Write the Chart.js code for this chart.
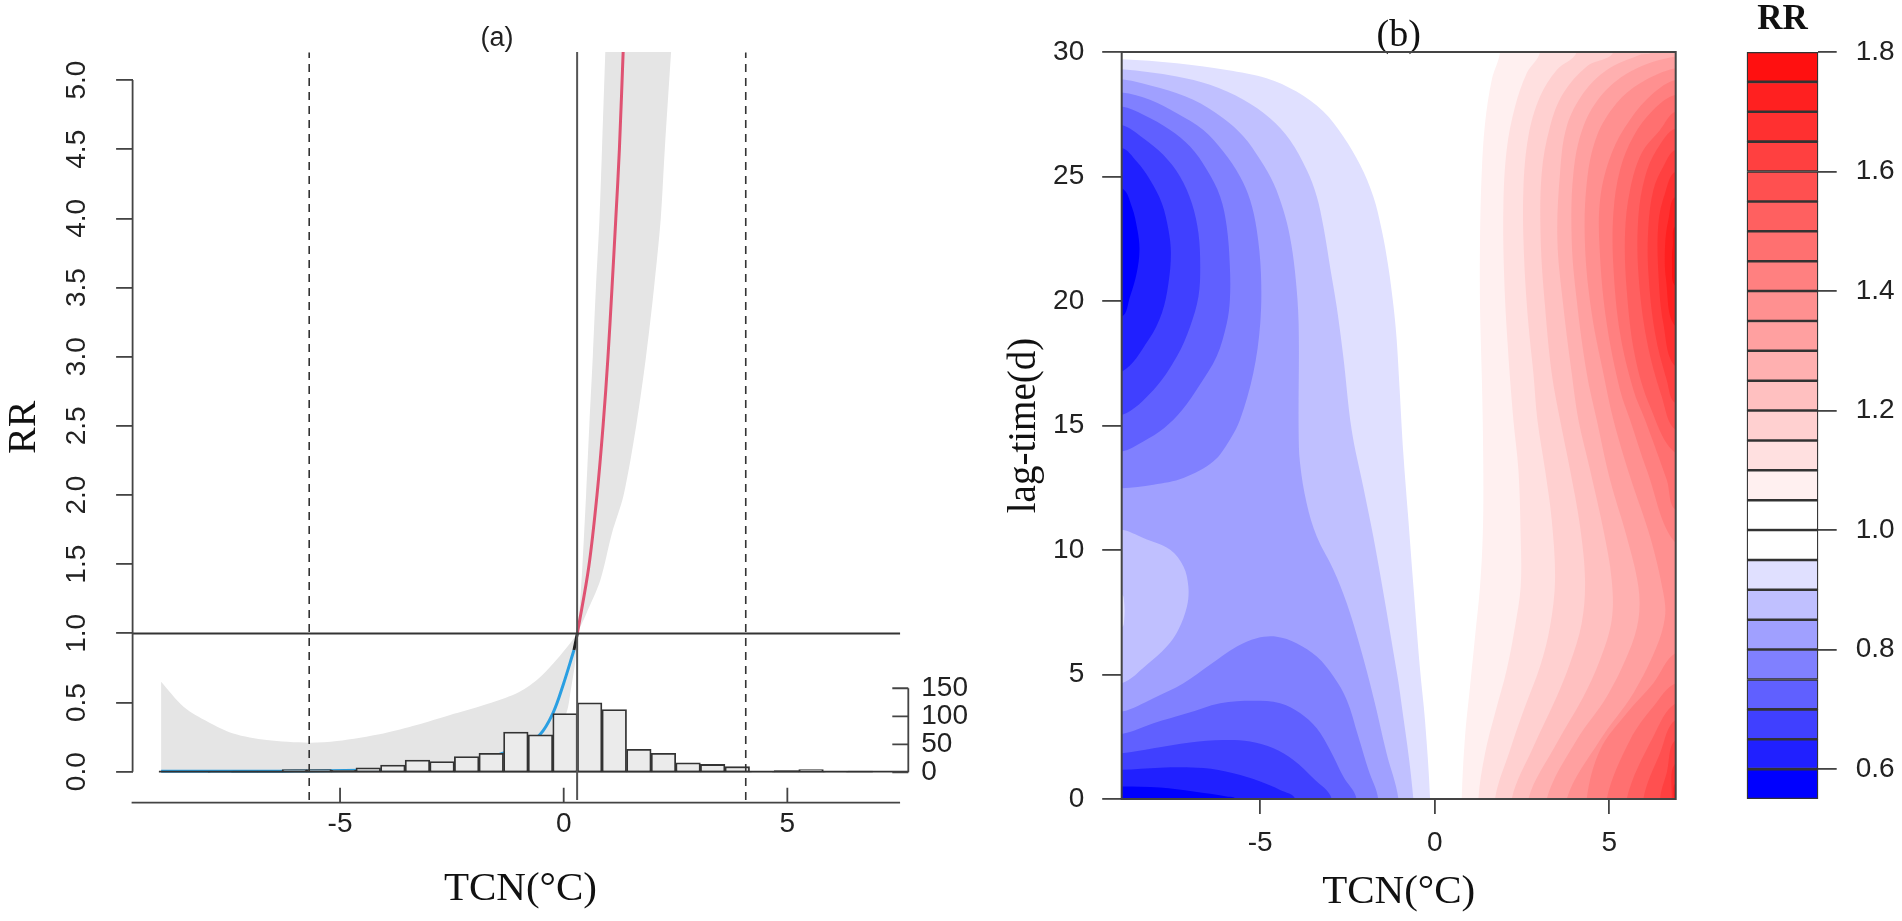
<!DOCTYPE html>
<html>
<head>
<meta charset="utf-8">
<title>RR</title>
<script src="https://cdn.jsdelivr.net/npm/chart.js@4"></script>
<style>
html, body { margin: 0; padding: 0; background: #fff; }
canvas { position: absolute; top: 0; }
#panelA { left: 0; }
#panelB { left: 1000px; }
#panelKey { left: 1700px; }
</style>
</head>
<body>
<canvas id="panelA" width="994" height="921"></canvas>
<canvas id="panelB" width="700" height="921"></canvas>
<canvas id="panelKey" width="202" height="921"></canvas>
<script>
// panel (a): ticks
const aXTicks = [-5, 0, 5];
const aYTicks = [0, 0.5, 1, 1.5, 2, 2.5, 3, 3.5, 4, 4.5, 5];
const histTicks = [0, 50, 100, 150];
// panel (a): histogram of TCN
const histMids = [-8.77, -8.22, -7.67, -7.12, -6.57, -6.02, -5.47, -4.92, -4.37, -3.82, -3.27, -2.72, -2.17, -1.62, -1.07, -0.52, 0.03, 0.58, 1.13, 1.68, 2.23, 2.78, 3.33, 3.88, 4.43, 4.98, 5.53, 6.08, 6.63];
const histCounts = [0, 0, 1, 2, 2, 5, 5, 4, 8, 13, 22, 19, 28, 34, 72, 67, 105, 124, 112, 41, 34, 17, 14, 10, 1, 3, 5, 1, 2];
// panel (a): cumulative RR curve and its confidence band [TCN, RR]
const coldCurve = [[-9, 0.003], [-6, 0.005], [-3, 0.03], [-1.5, 0.12], [-0.9, 0.2], [-0.54, 0.265], [-0.24, 0.424], [0, 0.64], [0.23, 0.88]];
const midCurve = [[0.23, 0.88], [0.305, 1]];
const heatCurve = [[0.305, 1], [0.56, 1.48], [0.744, 2], [0.88, 2.5], [0.99, 3], [1.08, 3.5], [1.165, 4], [1.245, 4.5], [1.34, 5.3]];
// corners are listed twice so the smoothing leaves them sharp
const bandEdge = [[-9, 0], [-9, 0], [-9, 0.65], [-9, 0.65], [-8.5, 0.47], [-7.95, 0.36], [-7.39, 0.277], [-6.64, 0.229], [-5.7, 0.21], [-5.07, 0.222], [-4.03, 0.277], [-3.29, 0.337], [-2.54, 0.41], [-1.8, 0.48], [-1.05, 0.567], [-0.6, 0.663], [-0.23, 0.784], [0.05, 0.89], [0.305, 1], [0.305, 1], [0.36, 1.2], [0.42, 1.5], [0.5, 2], [0.572, 2.5], [0.65, 3], [0.72, 3.5], [0.8, 4], [0.856, 4.5], [0.94, 5.3], [0.94, 5.3], [2.42, 5.3], [2.42, 5.3], [2.26, 4.5], [2.17, 4], [2.02, 3.5], [1.84, 3], [1.62, 2.5], [1.34, 2], [1.08, 1.725], [0.82, 1.386], [0.51, 1.146], [0.305, 1], [0.305, 1], [0.26, 0.8], [0.163, 0.6], [0.06, 0.424], [-0.3, 0.2], [-1, 0.03], [-3, 0], [-9, 0]];
const refT = 0.3;
const dashT = [-5.69, 4.07];

// panel (b): ticks
const bXTicks = [-5, 0, 5];
const bYTicks = [0, 5, 10, 15, 20, 25, 30];
// panel (b): contour lines [TCN, lag], blue side, RR below the level
const lo095 = [[-8.97, 29.71], [-7.39, 29.55], [-5.96, 29.28], [-4.82, 28.95], [-3.96, 28.41], [-3.19, 27.61], [-2.62, 26.61], [-2.14, 25.47], [-1.76, 24.2], [-1.52, 22.86], [-1.33, 21.38], [-1.18, 19.78], [-1.09, 18.44], [-1.01, 16.56], [-0.9, 13.89], [-0.755, 11.21], [-0.61, 8.53], [-0.42, 5.19], [-0.28, 3.18], [-0.134, 0]];
const lo090 = [[-8.97, 29.31], [-7.39, 29.02], [-6.44, 28.68], [-5.48, 28.08], [-4.72, 27.34], [-4.15, 26.47], [-3.67, 25.27], [-3.38, 24.2], [-3.19, 22.99], [-3, 21.38], [-2.81, 19.78], [-2.62, 17.77], [-2.38, 14.82], [-2.05, 12.55], [-1.76, 10.54], [-1.47, 8.27], [-1.18, 5.86], [-0.994, 4.25], [-0.612, 0]];
const lo085 = [[-8.97, 28.91], [-7.87, 28.55], [-6.92, 28.08], [-6.06, 27.34], [-5.48, 26.61], [-5, 25.67], [-4.62, 24.73], [-4.34, 23.66], [-4.15, 22.59], [-4, 21.12], [-3.9, 19.1], [-3.9, 14.83], [-3.86, 13.49], [-3.67, 11.88], [-3.38, 10.54], [-2.9, 9.2], [-2.52, 7.86], [-2.14, 6.12], [-1.76, 4.11], [-1.38, 1.84], [-1.04, 0]];
const islandHi085 = [[-8.97, 10.81], [-8.35, 10.48], [-7.58, 10.01], [-7.2, 9.34], [-7.06, 8.53], [-7.1, 7.73], [-7.35, 6.79], [-7.68, 6.12], [-8.25, 5.39], [-8.97, 4.65]];
const islandHi090 = [[-8.97, 8.2], [-8.9, 7.9], [-8.9, 7.2], [-8.97, 6.9]];
const lo080Top = [[-8.97, 28.37], [-8.16, 28.08], [-7.39, 27.54], [-6.63, 26.87], [-6.06, 26], [-5.58, 25], [-5.29, 24.06], [-5.1, 22.86], [-4.98, 21.12], [-5, 19.1], [-5.2, 17.1], [-5.58, 15.23], [-5.87, 14.43], [-6.34, 13.56], [-7.2, 12.89], [-8.06, 12.62], [-8.97, 12.48]];
const lo080Low = [[-8.97, 3.51], [-8.06, 4.05], [-7.2, 4.65], [-6.44, 5.39], [-5.67, 6.12], [-5.1, 6.46], [-4.53, 6.52], [-3.96, 6.26], [-3.38, 5.72], [-2.9, 4.92], [-2.52, 3.98], [-2.19, 2.51], [-1.9, 1.17], [-1.62, 0]];
const lo075Top = [[-8.97, 27.81], [-8.35, 27.48], [-7.58, 26.87], [-7.01, 26.2], [-6.53, 25.27], [-6.15, 24.2], [-5.96, 22.99], [-5.87, 21.38], [-5.87, 20.04], [-5.96, 19.1], [-6.25, 17.77], [-6.75, 16.6], [-7.25, 15.6], [-7.75, 14.9], [-8.35, 14.36], [-8.97, 13.96]];
const lo075Low = [[-8.97, 2.61], [-8.06, 3.04], [-7.1, 3.44], [-6.15, 3.85], [-5.2, 3.95], [-4.43, 3.85], [-3.86, 3.45], [-3.38, 2.84], [-3, 1.97], [-2.62, 0.9], [-2.24, 0]];
const lo070Top = [[-8.97, 27.07], [-8.35, 26.54], [-7.78, 25.87], [-7.3, 25], [-6.96, 23.93], [-6.77, 22.72], [-6.72, 21.38], [-6.77, 20.18], [-7.01, 18.97], [-7.39, 17.77], [-8.06, 16.43], [-8.97, 15.42]];
const lo070Low = [[-8.97, 1.84], [-8.06, 2.04], [-7.01, 2.27], [-6.06, 2.37], [-5.29, 2.31], [-4.62, 2.04], [-4.05, 1.57], [-3.48, 0.83], [-2.95, 0]];
const lo065Top = [[-8.97, 26.14], [-8.54, 25.6], [-8.16, 24.87], [-7.82, 23.93], [-7.63, 22.86], [-7.56, 21.92], [-7.63, 20.71], [-7.82, 19.51], [-8.2, 18.44], [-8.97, 17.16]];
const lo065Low = [[-8.97, 1.17], [-7.87, 1.26], [-6.63, 1.24], [-5.77, 1.03], [-5, 0.7], [-4.43, 0.36], [-4, 0]];
const lo060Top = [[-8.97, 24.53], [-8.68, 23.79], [-8.52, 22.86], [-8.46, 22.05], [-8.54, 21.12], [-8.73, 20.18], [-8.97, 19.37]];
const lo060Low = [[-8.97, 0.5], [-7.87, 0.46], [-6.91, 0.3], [-5.96, 0.1], [-5.72, 0]];
// panel (b): contour lines, red side, RR above the level
const hi105 = [[1.871, 30], [1.633, 28.88], [1.442, 27.14], [1.346, 25.13], [1.298, 22.45], [1.298, 19.78], [1.346, 17.1], [1.375, 15.23], [1.394, 12.55], [1.375, 10.54], [1.298, 8.53], [1.155, 6.52], [1.012, 4.52], [0.868, 2.51], [0.773, 0]];
const hi110 = [[3.017, 30], [2.635, 29.15], [2.301, 27.81], [2.062, 26.07], [1.967, 23.79], [1.986, 21.12], [2.081, 18.44], [2.253, 15.23], [2.397, 13.22], [2.463, 10.54], [2.463, 8.53], [2.301, 6.93], [2.062, 5.19], [1.728, 3.44], [1.442, 1.84], [1.25, 0]];
const hi115 = [[4.068, 30], [3.495, 29.28], [3.017, 28.21], [2.683, 26.61], [2.54, 24.46], [2.559, 21.78], [2.683, 19.1], [2.827, 17.1], [2.941, 15.23], [3.161, 13.22], [3.352, 11.21], [3.447, 8.8], [3.304, 6.93], [3.017, 5.32], [2.588, 3.71], [2.158, 1.97], [1.728, 0]];
const hi120 = [[5.119, 30], [4.355, 29.42], [3.686, 28.35], [3.304, 27.01], [3.065, 25.13], [3.037, 22.45], [3.161, 19.78], [3.352, 17.1], [3.59, 15.23], [3.877, 13.22], [4.164, 10.94], [4.307, 8.8], [4.211, 7.06], [3.877, 5.45], [3.495, 4.11], [2.827, 2.1], [2.206, 0]];
const hi125 = [[6.2, 30], [5.883, 29.89], [4.928, 29.28], [4.259, 28.35], [3.782, 27.01], [3.59, 25.13], [3.514, 22.45], [3.686, 19.78], [3.925, 17.1], [4.116, 15.23], [4.45, 13.22], [4.832, 10.81], [5.071, 8.8], [5.071, 7.19], [4.737, 5.59], [4.259, 4.11], [3.495, 2.24], [2.683, 0]];
const hi130 = [[6.91, 29.82], [5.692, 29.28], [4.832, 28.35], [4.259, 27.01], [3.973, 25.13], [3.925, 22.45], [4.068, 20.04], [4.355, 17.1], [4.641, 15.23], [5.023, 12.82], [5.5, 10.54], [5.835, 8.53], [5.835, 7.19], [5.548, 5.86], [4.928, 4.11], [4.068, 2.37], [3.208, 0]];
const hi135 = [[6.91, 29.35], [5.883, 28.75], [5.214, 27.95], [4.641, 26.61], [4.355, 24.73], [4.307, 22.19], [4.498, 19.51], [4.832, 17.1], [5.119, 15.23], [5.596, 12.95], [6.17, 10.54], [6.551, 8.27], [6.599, 7.33], [6.36, 6.12], [5.692, 4.25], [4.737, 2.37], [3.782, 0]];
const hi140Top = [[6.91, 28.88], [6.265, 28.35], [5.596, 27.28], [5.071, 25.94], [4.737, 24.06], [4.737, 21.78], [4.928, 19.1], [5.31, 16.43], [5.596, 15.23], [6.074, 13.22], [6.91, 10.27]];
const hi140Low = [[6.91, 5.86], [6.265, 4.65], [5.5, 3.44], [4.737, 1.97], [4.355, 0]];
const hi145Top = [[6.91, 28.28], [6.265, 27.68], [5.692, 26.61], [5.31, 25.27], [5.119, 23.53], [5.119, 21.38], [5.31, 18.7], [5.692, 16.43], [6.026, 15.23], [6.647, 12.82], [6.91, 11.61]];
const hi145Low = [[6.91, 4.65], [6.265, 3.71], [5.596, 2.37], [4.928, 0]];
const hi150Top = [[6.91, 27.61], [6.456, 26.87], [5.93, 25.94], [5.596, 24.46], [5.453, 22.72], [5.5, 20.45], [5.74, 17.77], [6.17, 15.76], [6.91, 13.89]];
const hi150Low = [[6.91, 3.85], [6.265, 2.51], [5.5, 0]];
const hi155Top = [[6.91, 26.94], [6.36, 26.07], [6.026, 24.98], [5.835, 23.39], [5.835, 21.12], [6.074, 18.44], [6.504, 16.16], [6.91, 14.82]];
const hi155Low = [[6.91, 3.18], [6.456, 1.84], [5.978, 0]];
const hi160Top = [[6.91, 26.07], [6.551, 25.4], [6.265, 24.46], [6.122, 22.99], [6.122, 21.12], [6.313, 18.7], [6.647, 16.83], [6.91, 15.89]];
const hi160Low = [[6.91, 2.37], [6.647, 1.04], [6.456, 0]];
const hi165Top = [[6.91, 25.2], [6.599, 24.33], [6.408, 23.12], [6.408, 21.12], [6.551, 19.1], [6.91, 17.37]];
const hi165Low = [[6.91, 1.44], [6.79, 0]];
const hi170Top = [[6.91, 24.2], [6.695, 23.26], [6.599, 22.19], [6.628, 20.85], [6.91, 18.97]];
const hi170Low = [[6.91, 0.63], [6.85, 0]];
const hi175Top = [[6.91, 23], [6.82, 22.2], [6.8, 21.6], [6.91, 20.6]];
const hi175Low = [[6.91, 0.25], [6.88, 0]];

// colour key
const keyBreaks = [0.55, 0.6, 0.65, 0.7, 0.75, 0.8, 0.85, 0.9, 0.95, 1, 1.05, 1.1, 1.15, 1.2, 1.25, 1.3, 1.35, 1.4, 1.45, 1.5, 1.55, 1.6, 1.65, 1.7, 1.75, 1.8];
const keyColors = ['#0000ff', '#2020ff', '#4040ff', '#6060ff', '#8080ff', '#a0a0ff', '#c0c0ff', '#e0e0ff', '#ffffff', '#ffffff', '#fff0f0', '#ffe0e0', '#ffd0d0', '#ffc0c0', '#ffb0b0', '#ffa0a0', '#ff9090', '#ff8080', '#ff7070', '#ff6060', '#ff5050', '#ff4040', '#ff3030', '#ff2020', '#ff1010'];
const keyTicks = [0.6, 0.8, 1, 1.2, 1.4, 1.6, 1.8];

const sans = 'Liberation Sans';
const serif = 'Liberation Serif';
const inkColor = '#222';
const axisColor = '#444';
Chart.defaults.font.family = sans;
Chart.defaults.color = inkColor;

function pts(list) {
    return list.map(function (p) { return { x: p[0], y: p[1] }; });
}
function fixedTicks(list) {
    return function (scale) { scale.ticks = list.map(function (v) { return { value: v }; }); };
}
function polygon(list, color, order, tension) {
    return { data: pts(list), showLine: true, fill: 'shape', tension: tension, backgroundColor: color, borderWidth: 0, pointRadius: 0, order: order };
}
// a contour closes outside the plot, on the side it encloses, and is clipped there
function contour(list, sideX, color, order) {
    const first = list[0], last = list[list.length - 1];
    const head = first[1] >= 30 ? [[sideX, 32], [first[0], 32]] : [[sideX, first[1]]];
    const tail = last[1] <= 0 ? [[last[0], -2], [sideX, -2]] : [[sideX, last[1]]];
    return polygon(head.concat(list, tail), color, order, 0.35);
}
function line(list, color, width, order, dash) {
    return { data: pts(list), showLine: true, fill: false, borderColor: color, borderWidth: width, borderDash: dash || [], pointRadius: 0, order: order, clip: false };
}
function curve(list, color, width, order) {
    return { data: pts(list), showLine: true, fill: false, tension: 0.35, borderColor: color, borderWidth: width, pointRadius: 0, order: order };
}
const baseOptions = {
    responsive: false,
    devicePixelRatio: 1,
    animation: false,
    events: [],
    plugins: { legend: { display: false }, tooltip: { enabled: false } }
};

// the axes of panel (a) do not span the plot region and its x ticks point inwards
const axesA = {
    id: 'axesA',
    afterDatasetsDraw(chart) {
        const c = chart.ctx, x = chart.scales.x, y = chart.scales.y, h = chart.scales.yH;
        const bottom = chart.chartArea.bottom, right = chart.chartArea.right;
        c.save();
        c.strokeStyle = axisColor;
        c.lineWidth = 1.8;
        c.beginPath();
        c.moveTo(chart.chartArea.left, y.getPixelForValue(0));
        c.lineTo(chart.chartArea.left, y.getPixelForValue(5));
        c.moveTo(chart.chartArea.left - 1, bottom);
        c.lineTo(x.getPixelForValue(7.52), bottom);
        aXTicks.forEach(function (v) {
            c.moveTo(x.getPixelForValue(v), bottom);
            c.lineTo(x.getPixelForValue(v), bottom - 15);
        });
        c.moveTo(right, h.getPixelForValue(0));
        c.lineTo(right, h.getPixelForValue(150));
        histTicks.forEach(function (v) {
            c.moveTo(right, h.getPixelForValue(v));
            c.lineTo(right - 16, h.getPixelForValue(v));
        });
        c.stroke();
        c.restore();
    }
};
const frameB = {
    id: 'frameB',
    afterDatasetsDraw(chart) {
        const c = chart.ctx, a = chart.chartArea;
        c.save();
        c.strokeStyle = axisColor;
        c.lineWidth = 2;
        c.strokeRect(a.left, a.top, a.right - a.left, a.bottom - a.top);
        c.restore();
    }
};

new Chart(document.getElementById('panelA'), {
    type: 'scatter',
    plugins: [axesA],
    data: {
        datasets: [
            polygon(bandEdge, '#e5e5e5', 20, 0.3),
            curve(coldCurve, '#2a9fe2', 3, 18),
            {
                type: 'bar',
                yAxisID: 'yH',
                data: histMids.map(function (m, i) { return { x: m, y: histCounts[i] }; }),
                backgroundColor: '#ebebeb',
                borderColor: '#333',
                borderWidth: 1.8,
                borderSkipped: false,
                categoryPercentage: 1,
                barPercentage: 1,
                order: 16
            },
            line([[-9.05, 0], [7.7, 0]], '#333', 1.8, 14),
            curve(midCurve, '#222', 3, 12),
            curve(heatCurve, '#df5272', 3, 10),
            line([[refT, -0.204], [refT, 5.203]], '#555', 2, 8),
            line([[dashT[0], -0.204], [dashT[0], 5.2]], '#333', 1.6, 6, [8, 6]),
            line([[dashT[1], -0.204], [dashT[1], 5.2]], '#333', 1.6, 6, [8, 6]),
            line([[-9.638, 1], [7.52, 1]], '#333', 2, 4)
        ]
    },
    options: Object.assign({}, baseOptions, {
        layout: { autoPadding: false, padding: 0 },
        plugins: Object.assign({}, baseOptions.plugins, {
            title: { display: true, text: '(a)', color: inkColor, font: { size: 27, weight: 'normal', lineHeight: 1 }, padding: { top: 25, bottom: 0 } }
        }),
        scales: {
            x: {
                type: 'linear',
                offset: false,
                min: -9.638,
                max: 7.704,
                afterBuildTicks: fixedTicks(aXTicks),
                afterFit: function (s) { s.height = 921 - 802.7; },
                grid: { display: false, drawTicks: false },
                border: { display: false },
                ticks: { padding: 5, maxRotation: 0, autoSkip: false, font: { size: 28 }, callback: function (v) { return String(v); } },
                title: { display: true, text: 'TCN(°C)', color: '#111', font: { family: serif, size: 41, lineHeight: 1 }, padding: { top: 0, bottom: 11 } }
            },
            y: {
                type: 'linear',
                min: -0.224,
                max: 5.203,
                afterBuildTicks: fixedTicks(aYTicks),
                afterFit: function (s) { s.width = 132.6; },
                grid: { drawOnChartArea: false, tickLength: 16.5, color: axisColor, lineWidth: 1.8 },
                border: { display: false },
                ticks: { padding: 19, minRotation: 90, maxRotation: 90, crossAlign: 'center', autoSkip: false, font: { size: 28 }, callback: function (v) { return v.toFixed(1); } },
                title: { display: true, text: 'RR', color: '#111', font: { family: serif, size: 40, lineHeight: 1 }, padding: { top: 4, bottom: 0 } }
            },
            yH: {
                type: 'linear',
                position: 'right',
                min: -54.3,
                max: 1286,
                afterBuildTicks: fixedTicks(histTicks),
                afterFit: function (s) { s.width = 994 - 908.3; },
                grid: { display: false, drawTicks: false },
                border: { display: false },
                ticks: { padding: 13, autoSkip: false, font: { size: 28 } }
            }
        }
    })
});

// painted from the outermost level inwards
const blueLayers = [
    [lo095, '#e0e0ff'], [lo090, '#c0c0ff'], [lo085, '#a0a0ff'], [islandHi085, '#c0c0ff'], [islandHi090, '#e0e0ff'],
    [lo080Top, '#8080ff'], [lo080Low, '#8080ff'], [lo075Top, '#6060ff'], [lo075Low, '#6060ff'],
    [lo070Top, '#4040ff'], [lo070Low, '#4040ff'], [lo065Top, '#2020ff'], [lo065Low, '#2020ff'],
    [lo060Top, '#0000ff'], [lo060Low, '#0000ff']
];
const redLayers = [
    [hi105, '#fff0f0'], [hi110, '#ffe0e0'], [hi115, '#ffd0d0'], [hi120, '#ffc0c0'], [hi125, '#ffb0b0'],
    [hi130, '#ffa0a0'], [hi135, '#ff9090'], [hi140Top, '#ff8080'], [hi140Low, '#ff8080'],
    [hi145Top, '#ff7070'], [hi145Low, '#ff7070'], [hi150Top, '#ff6060'], [hi150Low, '#ff6060'],
    [hi155Top, '#ff5050'], [hi155Low, '#ff5050'], [hi160Top, '#ff4040'], [hi160Low, '#ff4040'],
    [hi165Top, '#ff3030'], [hi165Low, '#ff3030'], [hi170Top, '#ff2020'], [hi170Low, '#ff2020'],
    [hi175Top, '#ff1010'], [hi175Low, '#ff1010']
];
const total = blueLayers.length + redLayers.length;

new Chart(document.getElementById('panelB'), {
    type: 'scatter',
    plugins: [frameB],
    data: {
        datasets: blueLayers.map(function (l, i) { return contour(l[0], -10, l[1], total - i); })
            .concat(redLayers.map(function (l, i) { return contour(l[0], 8, l[1], redLayers.length - i); }))
    },
    options: Object.assign({}, baseOptions, {
        layout: { autoPadding: false, padding: { right: 24.3 } },
        plugins: Object.assign({}, baseOptions.plugins, {
            title: { display: true, fullSize: false, text: '(b)', color: '#111', font: { family: serif, size: 38, weight: 'normal', lineHeight: 1 }, padding: { top: 17, bottom: -3 } }
        }),
        scales: {
            x: {
                type: 'linear',
                min: -8.97,
                max: 6.905,
                afterBuildTicks: fixedTicks(bXTicks),
                afterFit: function (s) { s.height = 122; },
                grid: { drawOnChartArea: false, tickLength: 15, color: axisColor, lineWidth: 1.8 },
                border: { display: false },
                ticks: { padding: 12, maxRotation: 0, autoSkip: false, font: { size: 28 }, callback: function (v) { return String(v); } },
                title: { display: true, text: 'TCN(°C)', color: '#111', font: { family: serif, size: 41, lineHeight: 1 }, padding: { top: 0, bottom: 8 } }
            },
            y: {
                type: 'linear',
                min: 0,
                max: 30,
                afterBuildTicks: fixedTicks(bYTicks),
                afterFit: function (s) { s.width = 121.7; },
                grid: { drawOnChartArea: false, tickLength: 19.5, color: axisColor, lineWidth: 1.8 },
                border: { display: false },
                ticks: { padding: 18, autoSkip: false, font: { size: 28 } },
                title: { display: true, text: 'lag-time(d)', color: '#111', font: { family: serif, size: 39, lineHeight: 1 }, padding: { top: 5, bottom: 0 } }
            }
        }
    })
});

new Chart(document.getElementById('panelKey'), {
    type: 'bar',
    data: {
        labels: ['RR'],
        datasets: keyColors.map(function (color, i) {
            return {
                data: [[keyBreaks[i], keyBreaks[i + 1]]],
                backgroundColor: color,
                borderColor: '#333',
                borderWidth: 1.6,
                borderSkipped: false,
                grouped: false,
                categoryPercentage: 1,
                barPercentage: 1
            };
        })
    },
    options: Object.assign({}, baseOptions, {
        layout: { autoPadding: false, padding: { left: 46.7 } },
        plugins: Object.assign({}, baseOptions.plugins, {
            title: { display: true, fullSize: false, text: 'RR', color: '#111', font: { family: serif, size: 35, weight: 'bold', lineHeight: 1 }, padding: { top: 2, bottom: 15 } }
        }),
        scales: {
            x: { display: false, afterFit: function (s) { s.height = 122; } },
            y: {
                type: 'linear',
                position: 'right',
                min: 0.55,
                max: 1.8,
                afterBuildTicks: fixedTicks(keyTicks),
                afterFit: function (s) { s.width = 83.7; },
                grid: { drawOnChartArea: false, tickLength: 18.4, color: axisColor, lineWidth: 1.8 },
                border: { display: false },
                ticks: { padding: 19, autoSkip: false, font: { size: 28 }, callback: function (v) { return v.toFixed(1); } }
            }
        }
    })
});
</script>
</body>
</html>
